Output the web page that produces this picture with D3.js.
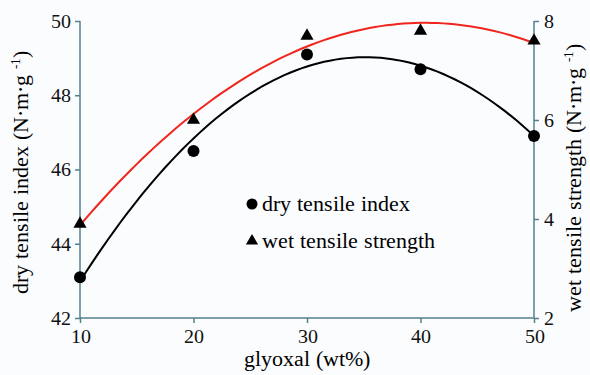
<html><head><meta charset="utf-8"><script src="https://cdn.jsdelivr.net/npm/d3@7"></script>
<style>
  @font-face { font-family: "ChartSerif"; src: local("Liberation Serif"), local("LiberationSerif"), local("Liberation Serif Regular"), local("Tinos"); }
  svg text { font-family: "ChartSerif", "Liberation Serif", serif !important; }
</style>
</head>
<body style="margin:0">
<script>
// data
const glyoxal = [10, 20, 30, 40, 50];
const dryIndex = [43.1, 46.5, 49.1, 48.7, 46.9];
const wetStrength = [3.9, 6.0, 7.7, 7.8, 7.6];
const xTicks = [10, 20, 30, 40, 50];
const leftTicks = [42, 44, 46, 48, 50];
const rightTicks = [2, 4, 6, 8];

const width = 590, height = 375;
const margin = {left: 80, right: 56, top: 21, bottom: 57};
const xMax = width - margin.left - margin.right;
const yMax = height - margin.top - margin.bottom;
const axisColor = "#52808c";

var svg = d3.select("body").append("svg")
  .attr("width", width).attr("height", height);
svg.append("rect").attr("width", width).attr("height", height).attr("fill", "#fbfcfe");
var g = svg.append("g")
  .attr("transform", "translate(" + margin.left + "," + margin.top + ")");

var xScale = d3.scaleLinear().domain([10, 50]).range([0, xMax]);
var yLeft = d3.scaleLinear().domain([42, 50]).range([yMax, 0]);
var yRight = d3.scaleLinear().domain([2, 8]).range([yMax, 0]);

// quadratic least-squares trendline, like a spreadsheet polynomial fit
function quadFit(xs, ys) {
  var n = xs.length, sx = 0, sx2 = 0, sx3 = 0, sx4 = 0, sy = 0, sxy = 0, sx2y = 0;
  for (var i = 0; i < n; i++) {
    var x = xs[i], y = ys[i];
    sx += x; sx2 += x * x; sx3 += x * x * x; sx4 += x * x * x * x;
    sy += y; sxy += x * y; sx2y += x * x * y;
  }
  var m = [[n, sx, sx2, sy], [sx, sx2, sx3, sxy], [sx2, sx3, sx4, sx2y]];
  for (var c = 0; c < 3; c++) {
    for (var r = c + 1; r < 3; r++) {
      var f = m[r][c] / m[c][c];
      for (var k = c; k < 4; k++) m[r][k] -= f * m[c][k];
    }
  }
  var b = [0, 0, 0];
  for (var r2 = 2; r2 >= 0; r2--) {
    var s = m[r2][3];
    for (var k2 = r2 + 1; k2 < 3; k2++) s -= m[r2][k2] * b[k2];
    b[r2] = s / m[r2][r2];
  }
  return function(x) { return b[0] + b[1] * x + b[2] * x * x; };
}

var fitDry = quadFit(glyoxal, dryIndex);
var fitWet = quadFit(glyoxal, wetStrength);
var xs = d3.range(10, 50.01, 0.5);

// Axes
var xAxis = g.append("g")
  .attr("transform", "translate(0," + yMax + ")")
  .call(d3.axisBottom(xScale).tickValues(xTicks).tickSize(5).tickPadding(6).tickFormat(d3.format("d")));
var lAxis = g.append("g")
  .call(d3.axisLeft(yLeft).tickValues(leftTicks).tickSize(5).tickPadding(4).tickFormat(d3.format("d")));
var rAxis = g.append("g")
  .attr("transform", "translate(" + xMax + ",0)")
  .call(d3.axisRight(yRight).tickValues(rightTicks).tickSize(5).tickPadding(5).tickFormat(d3.format("d")));

[xAxis, lAxis, rAxis].forEach(function(a) {
  a.attr("font-family", null).attr("font-size", null);
  a.selectAll("path, line").attr("stroke", axisColor).attr("stroke-width", 1.5);
  a.selectAll("text").attr("fill", "#111").style("font-size", "20px");
});
xAxis.select(".domain").attr("d", "M0,0H" + xMax);
lAxis.select(".domain").attr("d", "M0," + yMax + "V0");
rAxis.select(".domain").attr("d", "M0," + yMax + "V0");

// Fit curves
g.append("path")
  .datum(xs)
  .attr("fill", "none").attr("stroke", "#f0261e").attr("stroke-width", 2)
  .attr("d", d3.line().x(function(d) { return xScale(d); }).y(function(d) { return yRight(fitWet(d)); }));

g.append("path")
  .datum(xs)
  .attr("fill", "none").attr("stroke", "#000").attr("stroke-width", 2)
  .attr("d", d3.line().x(function(d) { return xScale(d); }).y(function(d) { return yLeft(fitDry(d)); }));

// Points
g.selectAll(".dry").data(glyoxal).enter().append("circle")
  .attr("cx", function(d) { return xScale(d); })
  .attr("cy", function(d, i) { return yLeft(dryIndex[i]); })
  .attr("r", 6).attr("fill", "#000");

var tri = d3.symbol().type(d3.symbolTriangle).size(75);
g.selectAll(".wet").data(glyoxal).enter().append("path")
  .attr("d", tri)
  .attr("transform", function(d, i) { return "translate(" + xScale(d) + "," + yRight(wetStrength[i]) + ")"; })
  .attr("fill", "#000");

// Legend
var legend = svg.append("g").attr("transform", "translate(252,204)");
legend.append("circle").attr("cx", 0).attr("cy", 0).attr("r", 5.5).attr("fill", "#000");
legend.append("text").attr("x", 10).attr("y", 7)
  .style("font-size", "22px").text("dry tensile index");
legend.append("path").attr("d", d3.symbol().type(d3.symbolTriangle).size(65))
  .attr("transform", "translate(0,37)").attr("fill", "#000");
legend.append("text").attr("x", 10).attr("y", 44)
  .style("font-size", "22px").text("wet tensile strength");

// Axis titles
svg.append("text")
  .attr("x", margin.left + xMax / 2).attr("y", 366)
  .style("text-anchor", "middle").style("font-size", "22px")
  .text("glyoxal (wt%)");

function unitLabel(sel, name) {
  sel.append("tspan").text(name + " (N\u00B7m\u00B7g ");
  sel.append("tspan").attr("dy", -8).style("font-size", "13px").text("-1");
  sel.append("tspan").attr("dy", 8).text(")");
}

var lt = svg.append("text")
  .attr("transform", "translate(28,172) rotate(-90)")
  .style("text-anchor", "middle").style("font-size", "22px");
unitLabel(lt, "dry tensile index");

var rt = svg.append("text")
  .attr("transform", "translate(581,178) rotate(-90)")
  .style("text-anchor", "middle").style("font-size", "22px");
unitLabel(rt, "wet tensile strength");
</script></body></html>
